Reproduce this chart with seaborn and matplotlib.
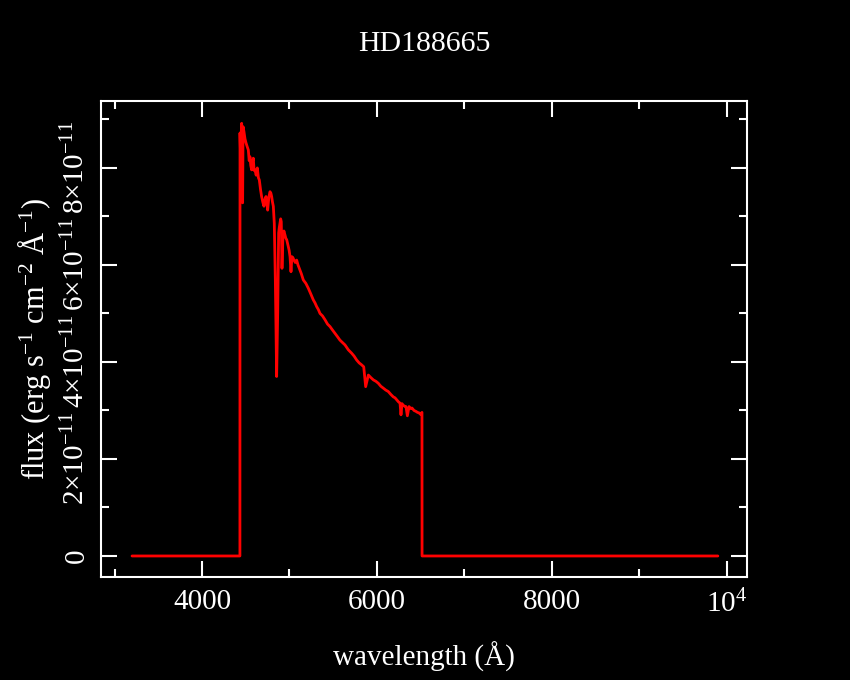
import matplotlib
matplotlib.use("Agg")
import matplotlib.pyplot as plt
import matplotlib.ticker as mticker
import pandas as pd
import seaborn as sns

# spectrum (flux in units of 1e-11 erg/s/cm2/A)
wavelength = [3200, 4434, 4435, 4440, 4454, 4465, 4470, 4480, 4492, 4503, 4515,
              4530, 4540, 4549, 4558, 4568, 4577, 4587, 4596, 4606, 4620, 4633,
              4645, 4656, 4670, 4682, 4695, 4709, 4720, 4732, 4742, 4751, 4765,
              4778, 4788, 4797, 4806, 4816, 4827, 4839, 4854, 4866, 4877, 4885,
              4892, 4900, 4907, 4915, 4926, 4937, 4949, 4959, 4969, 4978, 4987,
              4997, 5007, 5018, 5029, 5040, 5052, 5067, 5083, 5098, 5113, 5136,
              5159, 5188, 5216, 5245, 5273, 5292, 5312, 5331, 5350, 5378, 5407,
              5436, 5464, 5492, 5521, 5550, 5578, 5607, 5636, 5674, 5712, 5740,
              5769, 5798, 5826, 5850, 5872, 5903, 5930, 5960, 5990, 6017, 6045,
              6074, 6102, 6131, 6160, 6188, 6208, 6227, 6246, 6265, 6276, 6288,
              6299, 6316, 6333, 6349, 6368, 6385, 6402, 6425, 6448, 6465, 6482,
              6500, 6516, 6517, 9900]
flux = [0, 0, 8.72, 8.35, 8.92, 7.28, 8.85, 8.75, 8.60, 8.52, 8.45,
        8.37, 8.15, 8.23, 8.05, 7.96, 8.12, 8.20, 7.95, 7.96, 7.85, 8.00,
        7.80, 7.75, 7.55, 7.41, 7.30, 7.21, 7.35, 7.41, 7.28, 7.13, 7.40,
        7.51, 7.48, 7.41, 7.30, 7.21, 6.86, 5.69, 3.70, 5.01, 6.66, 6.78,
        6.86, 6.95, 6.89, 5.93, 6.59, 6.70, 6.62, 6.55, 6.52, 6.45, 6.38,
        6.30, 6.17, 5.86, 6.17, 6.15, 6.10, 6.05, 6.10, 6.00, 5.93, 5.82,
        5.69, 5.62, 5.52, 5.40, 5.28, 5.22, 5.14, 5.08, 5.00, 4.95, 4.87,
        4.78, 4.73, 4.66, 4.59, 4.52, 4.45, 4.40, 4.35, 4.25, 4.18, 4.12,
        4.04, 3.98, 3.94, 3.90, 3.49, 3.73, 3.68, 3.63, 3.60, 3.56, 3.50,
        3.46, 3.42, 3.39, 3.33, 3.28, 3.26, 3.22, 3.18, 3.15, 2.91, 3.14,
        3.11, 3.09, 3.08, 2.89, 3.08, 3.04, 3.05, 3.00, 2.98, 2.96, 2.95,
        2.92, 2.96, 0, 0]

x_ticks = [4000, 6000, 8000, 10000]
x_ticklabels = ["4000", "6000", "8000", r"$10^4$"]
y_ticks = [0, 2, 4, 6, 8]

df = pd.DataFrame({"wavelength": wavelength, "flux": flux})

sns.set_theme(style="ticks")
plt.rcParams.update({
    "figure.facecolor": "black",
    "axes.facecolor": "black",
    "axes.edgecolor": "white",
    "axes.labelcolor": "white",
    "text.color": "white",
    "xtick.color": "white",
    "ytick.color": "white",
    "axes.linewidth": 1.5,
    "mathtext.fontset": "custom",
    "mathtext.rm": "Liberation Serif",
    "mathtext.it": "Liberation Serif",
})
plt.rcParams["font.family"] = ["Liberation Serif", "DejaVu Serif"]

fig = plt.figure(figsize=(8.5, 6.8), dpi=100)
ax = fig.add_axes([0.1188, 0.1515, 0.7600, 0.7000])

sns.lineplot(data=df, x="wavelength", y="flux", ax=ax, color="#ff0000",
             linewidth=2.0, estimator=None, sort=False)

ax.set_xlim(2845, 10233)
ax.set_ylim(-0.433, 9.38)

ax.set_xticks(x_ticks)
ax.set_xticklabels(x_ticklabels)
ax.xaxis.set_minor_locator(mticker.MultipleLocator(1000))
ax.set_yticks(y_ticks)
ax.set_yticklabels(["0" if v == 0 else f"{v}×10$^{{-11}}$" for v in y_ticks],
                   rotation=90, va="center")
ax.yaxis.set_minor_locator(mticker.MultipleLocator(1))

ax.tick_params(which="both", direction="in", top=True, right=True, width=1.5)
ax.tick_params(which="major", length=11.5)
ax.tick_params(which="minor", length=5.8)
ax.tick_params(axis="x", labelsize=21, pad=9)
ax.tick_params(axis="y", labelsize=21, pad=8)

ax.set_xlabel("wavelength (Å)", fontsize=21, labelpad=17)
ax.set_ylabel(r"flux (erg s$^{-1}$ cm$^{-2}$ Å$^{-1}$)", fontsize=22, labelpad=6)
ax.set_title("HD188665", fontsize=21.5, pad=36, color="white")

fig.savefig("out.png", dpi=100, facecolor="black")
